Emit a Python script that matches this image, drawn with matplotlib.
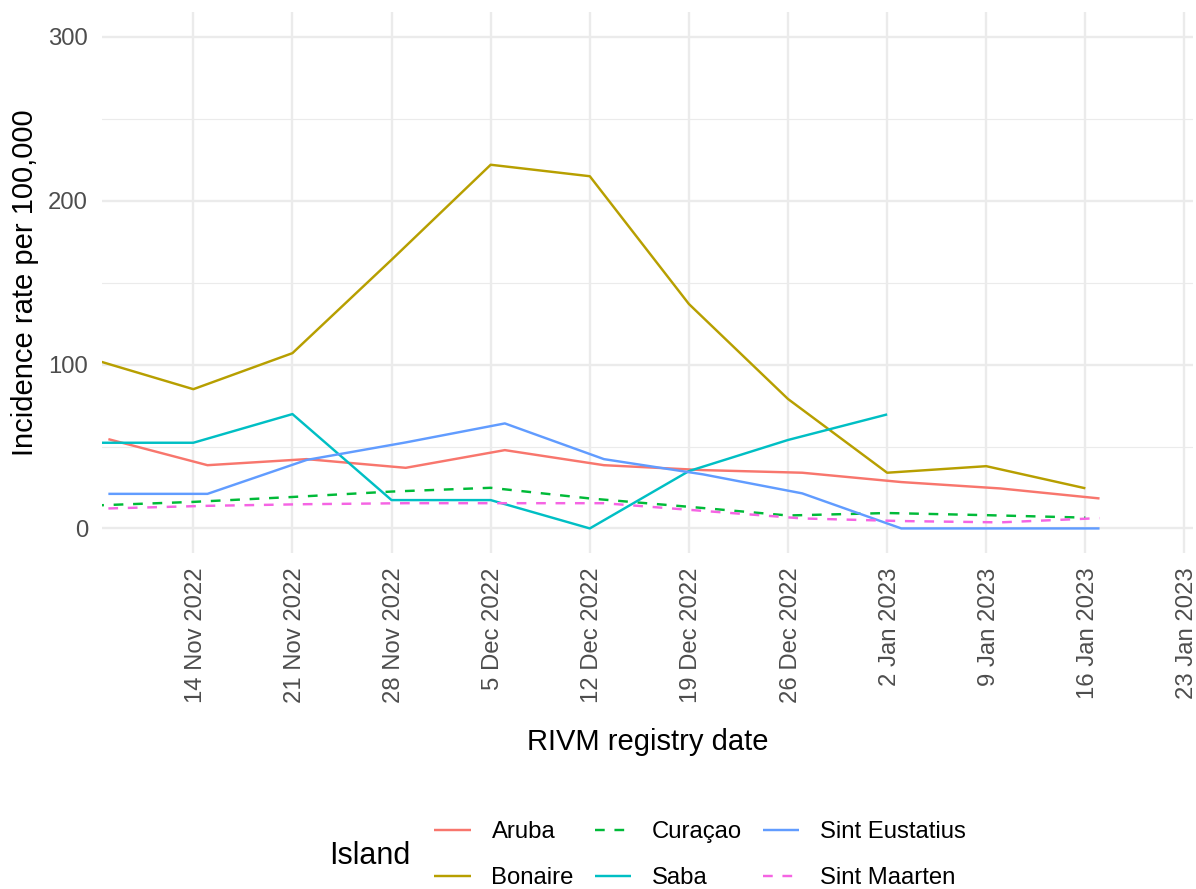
import datetime as dt
import matplotlib
matplotlib.use("Agg")
import matplotlib.pyplot as plt
import matplotlib.dates as mdates
import matplotlib.transforms as mtransforms
import numpy as np

plt.rcParams['font.family'] = ['Liberation Sans', 'DejaVu Sans']

# ---------------- data ----------------
islands = ["Aruba", "Bonaire", "Curaçao", "Saba", "Sint Eustatius", "Sint Maarten"]
colors = ["#F8766D", "#B79F00", "#00BA38", "#00BFC4", "#619CFF", "#F564E3"]
linestyles = ["solid", "solid", "dashed", "solid", "solid", "dashed"]

# Monday registry dates (Bonaire, Curaçao, Saba)
mon_dates = ["2022-11-07", "2022-11-14", "2022-11-21", "2022-11-28", "2022-12-05",
             "2022-12-12", "2022-12-19", "2022-12-26", "2023-01-02", "2023-01-09",
             "2023-01-16"]
# Tuesday registry dates (Aruba, Sint Eustatius, Sint Maarten)
tue_dates = ["2022-11-08", "2022-11-15", "2022-11-22", "2022-11-29", "2022-12-06",
             "2022-12-13", "2022-12-20", "2022-12-27", "2023-01-03", "2023-01-10",
             "2023-01-17"]

aruba = [54.5, 38.6, 42.3, 37.0, 47.8, 38.6, 35.6, 34.0, 28.3, 24.4, 18.3]
bonaire = [103.0, 85.0, 107.0, 164.0, 222.0, 215.0, 137.0, 79.0, 34.0, 38.0, 24.5]
curacao = [14.0, 16.2, 19.2, 22.5, 24.8, 18.3, 13.2, 7.9, 9.4, 8.1, 6.6]
saba = [52.3, 52.3, 69.8, 17.3, 17.3, 0.0, 35.0, 54.0, 69.6]
sint_eustatius = [21.1, 21.1, 41.8, 52.5, 64.1, 42.3, 33.0, 21.4, 0.0, 0.0, 0.0]
sint_maarten = [12.2, 13.8, 14.8, 15.4, 15.4, 15.4, 10.7, 6.1, 4.5, 3.7, 6.3]

series_dates = [tue_dates, mon_dates, mon_dates, mon_dates[:len(saba)], tue_dates, tue_dates]
series_values = [aruba, bonaire, curacao, saba, sint_eustatius, sint_maarten]

x_tick_dates = ["2022-11-14", "2022-11-21", "2022-11-28", "2022-12-05", "2022-12-12",
                "2022-12-19", "2022-12-26", "2023-01-02", "2023-01-09", "2023-01-16",
                "2023-01-23"]
x_tick_labels = ["14 Nov 2022", "21 Nov 2022", "28 Nov 2022", "5 Dec 2022", "12 Dec 2022",
                 "19 Dec 2022", "26 Dec 2022", "2 Jan 2023", "9 Jan 2023", "16 Jan 2023",
                 "23 Jan 2023"]
y_ticks = [0, 100, 200, 300]
y_minor = [50, 150, 250]

# ---------------- figure ----------------
W, H = 1196, 889
fig = plt.figure(figsize=(W / 100, H / 100), dpi=100)
ax = fig.add_axes([102 / W, 1 - 553 / H, 1090.7 / W, 540.6 / H])

def to_dt(s):
    return np.array([np.datetime64(d) for d in s])

handles = []
for name, col, ls, d, v in zip(islands, colors, linestyles, series_dates, series_values):
    kw = dict(color=col, lw=1.75, label=name, solid_capstyle='butt', dash_capstyle='butt')
    if ls == "dashed":
        kw['dashes'] = (4, 4)
    h, = ax.plot(to_dt(d), v, **kw)
    handles.append(h)

ref = mdates.date2num(dt.datetime(2022, 11, 14))
ax.set_xlim(ref - 6.45, ref + 70.58)
ax.set_ylim(-15, 315)

ax.set_xticks(to_dt(x_tick_dates))
ax.set_xticklabels(x_tick_labels, rotation=90, ha='center', va='top')
ax.set_yticks(y_ticks)
ax.set_yticks(y_minor, minor=True)
ax.xaxis.set_minor_locator(matplotlib.ticker.NullLocator())

ax.tick_params(axis='both', which='both', length=0, colors='#4D4D4D', labelsize=17.2)
ax.tick_params(axis='y', pad=10)
ax.tick_params(axis='x', pad=10.5)

shift = mtransforms.ScaledTranslation(0.025, 0, fig.dpi_scale_trans)
for lab in ax.get_xticklabels():
    lab.set_transform(lab.get_transform() + shift)

ax.grid(which='major', color='#EBEBEB', lw=1.7)
ax.grid(which='minor', axis='y', color='#EBEBEB', lw=0.85)
ax.set_axisbelow(True)
for s in ax.spines.values():
    s.set_visible(False)

ax.set_xlabel("RIVM registry date", fontsize=21, color='black', va='center')
ax.xaxis.set_label_coords(0.5, -(742 - 553) / 540.6)
ax.set_ylabel("Incidence rate per 100,000", fontsize=21, color='black', va='center')
ax.yaxis.set_label_coords((25 - 102) / 1090.7, 0.5)

fig.legend(handles, islands, ncol=3, loc='center',
           bbox_to_anchor=(700 / W, 1 - 855 / H), frameon=False, fontsize=17.2,
           handlelength=1.53, handletextpad=0.86, columnspacing=0.87,
           labelspacing=1.0, borderpad=0)
fig.text(329 / W, 1 - 856.5 / H, "Island", fontsize=22, ha='left', va='center')

fig.savefig("out.png", dpi=100)
